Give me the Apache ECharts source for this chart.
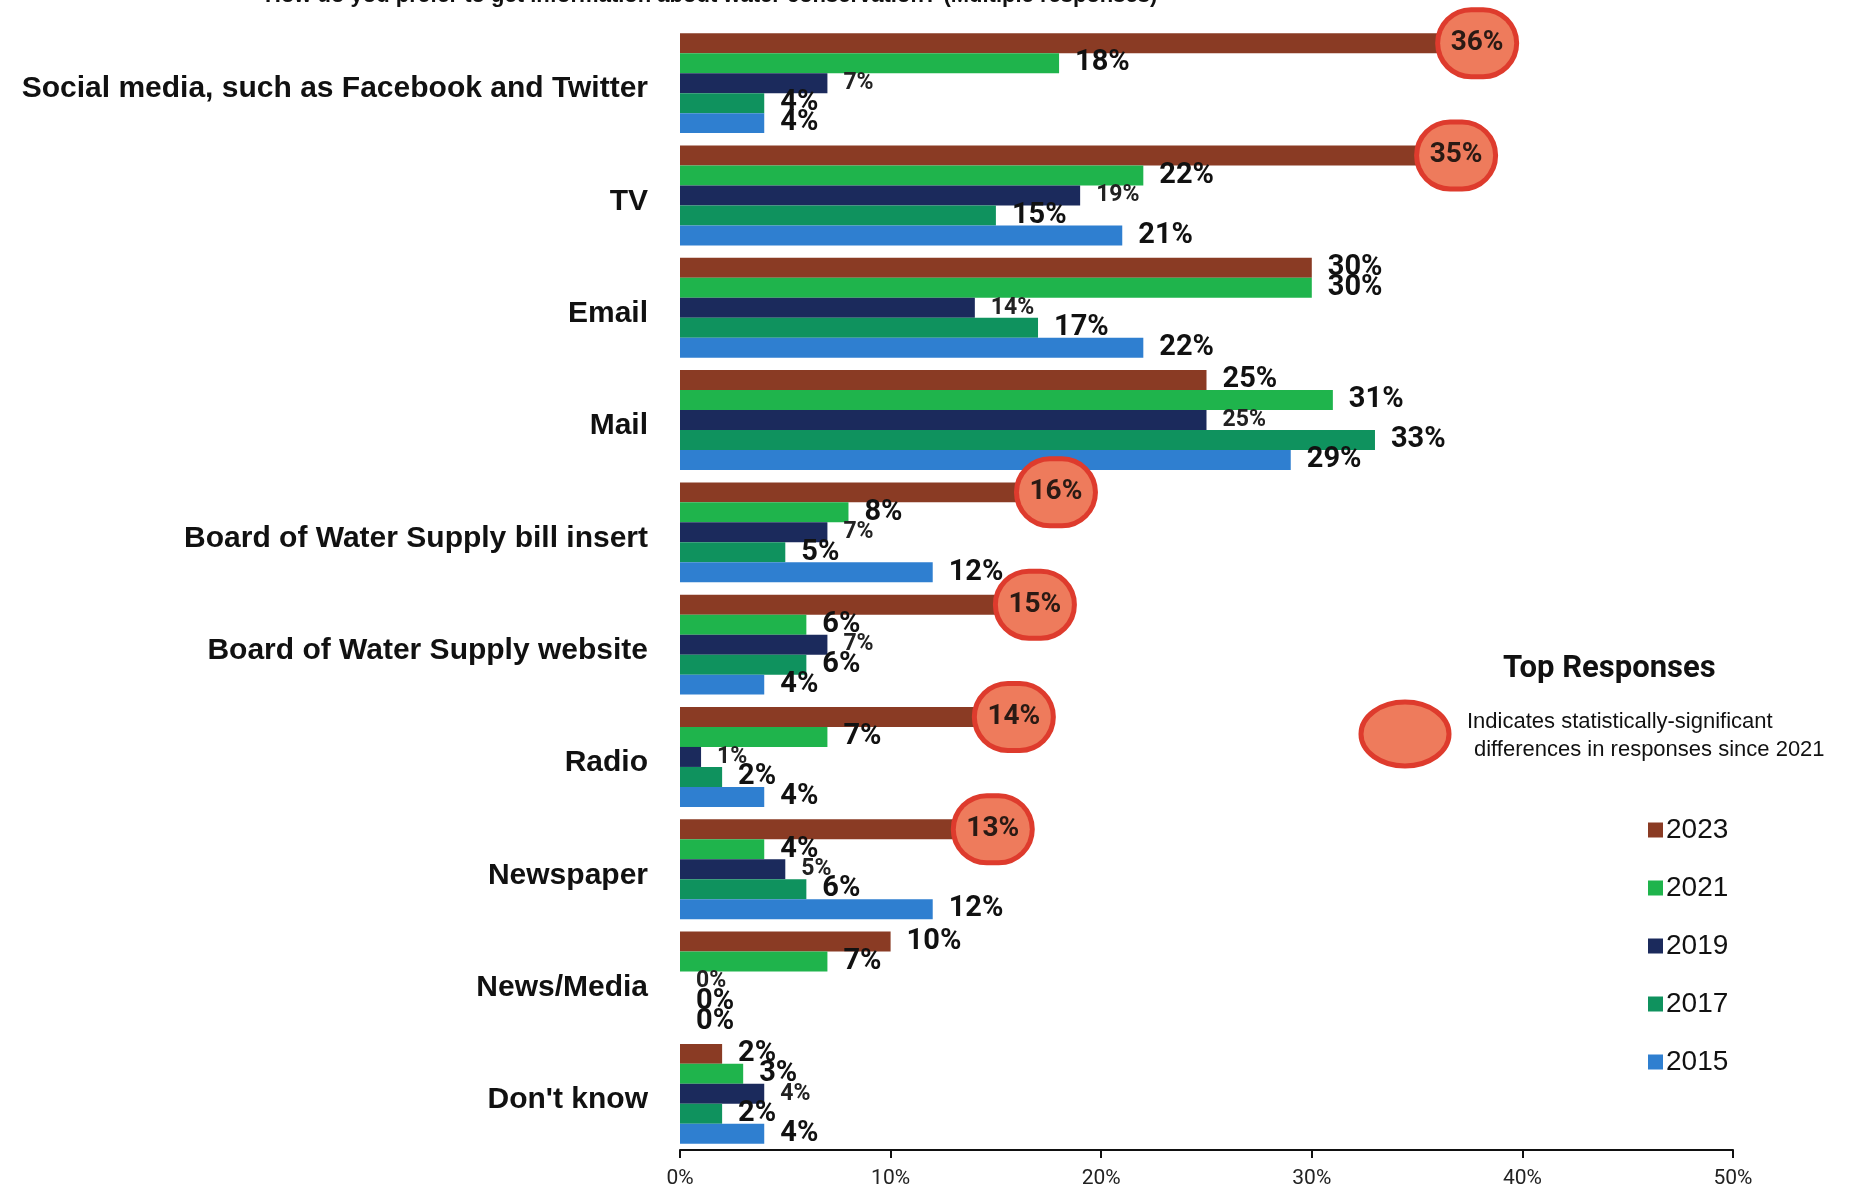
<!DOCTYPE html>
<html>
<head>
<meta charset="utf-8">
<script src="https://cdn.jsdelivr.net/npm/echarts@6/dist/echarts.min.js"></script>
<style>
html,body{margin:0;padding:0;background:#fff;}
#chart{width:1851px;height:1189px;}
</style>
</head>
<body>
<div id="chart"></div>
<script>
var categories = [
  "Social media, such as Facebook and Twitter",
  "TV",
  "Email",
  "Mail",
  "Board of Water Supply bill insert",
  "Board of Water Supply website",
  "Radio",
  "Newspaper",
  "News/Media",
  "Don't know"
];
var years = ["2023", "2021", "2019", "2017", "2015"];
var v2023 = [36, 35, 30, 25, 16, 15, 14, 13, 10, 2];
var v2021 = [18, 22, 30, 31, 8, 6, 7, 4, 7, 3];
var v2019 = [7, 19, 14, 25, 7, 7, 1, 5, 0, 4];
var v2017 = [4, 15, 17, 33, 5, 6, 2, 6, 0, 2];
var v2015 = [4, 21, 22, 29, 12, 4, 4, 12, 0, 4];
var significant2023 = [true, true, false, false, true, true, true, true, false, false];
var xTicks = [0, 10, 20, 30, 40, 50];

var colors = ["#8a3b24", "#1fb44c", "#1b2a5c", "#0f925e", "#2f7fd0"];
var labelSizes = [29, 29, 23, 29, 29];
var LBL = "Roboto, 'Liberation Sans', Arial, sans-serif";

var seriesValues = [v2023, v2021, v2019, v2017, v2015];

function buildData(vals, si) {
  return vals.map(function (v, i) {
    var item = { value: v };
    if (si === 0 && significant2023[i]) {
      item.label = {
        show: true,
        position: 'right',
        distance: 2,
        formatter: '{e|{c}%}',
        rich: {
          e: {
            width: 74,
            height: 62,
            lineHeight: 62,
            align: 'center',
            verticalAlign: 'middle',
            backgroundColor: '#ee7b5c',
            borderColor: '#de3b2d',
            borderWidth: 5,
            borderRadius: 37,
            fontSize: 28,
            fontWeight: 'bold',
            fontFamily: LBL,
            color: '#2a1a14'
          }
        }
      };
    }
    return item;
  });
}

var series = years.map(function (y, si) {
  return {
    name: y,
    type: 'bar',
    data: buildData(seriesValues[si], si),
    barGap: '0%',
    barCategoryGap: '11%',
    itemStyle: { color: colors[si] },
    label: {
      show: true,
      position: 'right',
      distance: 16,
      formatter: '{c}%',
      fontSize: labelSizes[si],
      fontWeight: 'bold',
      fontFamily: LBL,
      color: si === 2 ? '#222' : '#111'
    },
    labelLayout: { hideOverlap: false }
  };
});

var chart = echarts.init(document.getElementById('chart'), null, { renderer: 'canvas' });
chart.setOption({
  backgroundColor: '#ffffff',
  animation: false,
  grid: { left: 680, right: 118, top: 27, bottom: 39, containLabel: false },
  xAxis: {
    type: 'value',
    min: xTicks[0],
    max: xTicks[xTicks.length - 1],
    interval: xTicks[1] - xTicks[0],
    axisLine: { show: true, lineStyle: { color: '#111', width: 2 } },
    axisTick: { show: true, length: 8, lineStyle: { color: '#111', width: 2 } },
    splitLine: { show: false },
    axisLabel: {
      formatter: '{value}%',
      fontSize: 21,
      fontFamily: LBL,
      color: '#222',
      margin: 18
    }
  },
  yAxis: {
    type: 'category',
    inverse: true,
    data: categories,
    axisLine: { show: false },
    axisTick: { show: false },
    axisLabel: {
      margin: 32,
      formatter: function (v) { return '{c|' + v + '}'; },
      rich: {
        c: {
          fontSize: 30,
          fontWeight: 'bold',
          fontFamily: "'Liberation Sans', Arial, sans-serif",
          color: '#111',
          padding: [12, 0, 0, 0]
        }
      }
    }
  },
  legend: {
    orient: 'vertical',
    left: 1643,
    top: 810,
    data: years,
    icon: 'rect',
    itemWidth: 15,
    itemHeight: 15,
    itemGap: 28,
    textStyle: {
      fontSize: 28,
      fontFamily: "'Liberation Sans', Arial, sans-serif",
      color: '#111',
      lineHeight: 30,
      padding: [0, 0, 0, -2]
    }
  },
  graphic: [
    {
      type: 'text',
      left: 265,
      top: -15,
      style: {
        text: 'How do you prefer to get information about water conservation? (Multiple responses)',
        fontSize: 22,
        fontWeight: 'bold',
        fontFamily: "'Liberation Sans', Arial, sans-serif",
        fill: '#111'
      }
    },
    {
      type: 'text',
      left: 1503,
      top: 654,
      style: {
        text: 'Top Responses',
        fontSize: 31,
        fontWeight: 'bold',
        fontFamily: LBL,
        fill: '#111'
      }
    },
    {
      type: 'ellipse',
      shape: { cx: 1405, cy: 734, rx: 44, ry: 32 },
      style: { fill: '#ee7b5c', stroke: '#de3b2d', lineWidth: 5 }
    },
    {
      type: 'text',
      left: 1467,
      top: 711,
      style: {
        text: 'Indicates statistically-significant',
        fontSize: 22,
        fontFamily: "'Liberation Sans', Arial, sans-serif",
        fill: '#111'
      }
    },
    {
      type: 'text',
      left: 1474,
      top: 739,
      style: {
        text: 'differences in responses since 2021',
        fontSize: 22,
        fontFamily: "'Liberation Sans', Arial, sans-serif",
        fill: '#111'
      }
    }
  ],
  series: series
});
</script>
</body>
</html>
